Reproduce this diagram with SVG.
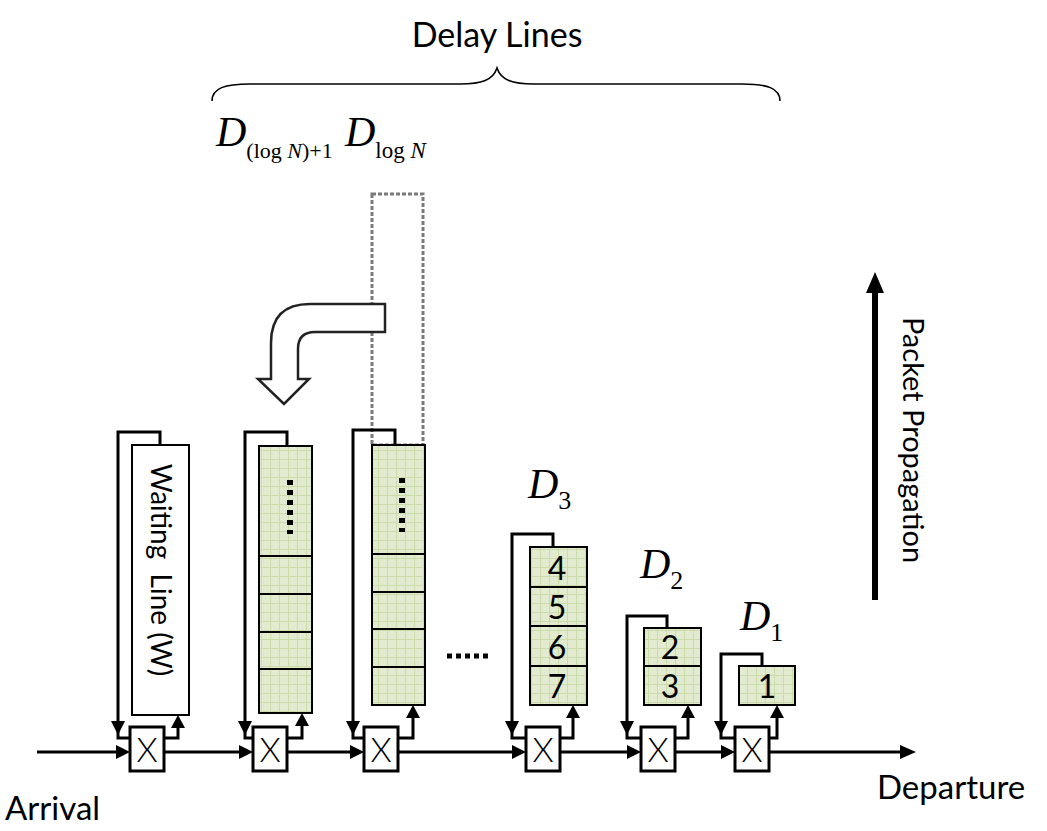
<svg xmlns="http://www.w3.org/2000/svg" width="1047" height="831" viewBox="0 0 1047 831">
<style>
.ln{fill:none;stroke:#000;stroke-width:3}
.sw{fill:#fff;stroke:#000;stroke-width:3}
.cell{fill:url(#grid);stroke:#000;stroke-width:2}
.div{stroke:#000;stroke-width:2}
.sans{font-family:Lato,"Liberation Sans",sans-serif;fill:#000}
.num{font-family:Lato,"Liberation Sans",sans-serif;font-size:32px;text-anchor:middle}
.ser{font-family:"Liberation Serif",serif;fill:#000}
.it{font-style:italic}
.ah{fill:#000}
</style>
<defs>
<pattern id="grid" width="9" height="9" patternUnits="userSpaceOnUse">
<rect width="9" height="9" fill="#e2ebcf"/>
<path d="M0 0.5H9M0.5 0V9" stroke="#cbdcaa" stroke-width="1"/>
</pattern>
</defs>

<g id="title">
<text class="sans" x="497" y="47" font-size="34" text-anchor="middle">Delay Lines</text>
<path d="M212,101 C212,88 225,84 250,84 L460,84 C482,84 493,80 497,68 C501,80 512,84 534,84 L742,84 C767,84 780,88 780,101" fill="none" stroke="#000" stroke-width="1.6"/>
</g>

<g id="labels">
<text class="ser" x="216" y="146"><tspan class="it" font-size="42">D</tspan><tspan font-size="22" dy="12">(log</tspan><tspan class="it" font-size="22"> N</tspan><tspan font-size="22">)+1</tspan></text>
<text class="ser" x="345" y="146"><tspan class="it" font-size="42">D</tspan><tspan font-size="23" dy="12">log</tspan><tspan class="it" font-size="23"> N</tspan></text>
<text class="ser" x="528" y="498"><tspan class="it" font-size="42">D</tspan><tspan font-size="26" dy="11">3</tspan></text>
<text class="ser" x="640" y="578"><tspan class="it" font-size="42">D</tspan><tspan font-size="26" dy="11">2</tspan></text>
<text class="ser" x="740" y="630"><tspan class="it" font-size="42">D</tspan><tspan font-size="26" dy="11">1</tspan></text>
<text class="sans" x="5" y="820" font-size="33">Arrival</text>
<text class="sans" x="877" y="799" font-size="33">Departure</text>
</g>

<g id="propagation">
<line x1="875" y1="600" x2="875" y2="290" stroke="#000" stroke-width="6"/>
<polygon class="ah" points="875,272 866,293 884,293"/>
<text class="sans" transform="translate(903,440) rotate(90)" font-size="29" text-anchor="middle">Packet Propagation</text>
</g>

<g id="dashed-slot">
<rect x="372" y="194" width="51" height="251" fill="none" stroke="#7a7a7a" stroke-width="3" stroke-dasharray="4,2"/>
</g>

<g id="move-arrow">
<path d="M385,304 L310,304 Q271,304 271,343 L271,379 L258,379 L284,404 L309,379 L298,379 L298,349 Q298,332 315,332 L385,332 Z" fill="#fff" stroke="#222" stroke-width="2.5"/>
</g>

<g id="waiting-line">
<rect x="132" y="445" width="57" height="270" fill="#fff" stroke="#000" stroke-width="2"/>
<text class="sans" transform="translate(151,570) rotate(90)" font-size="28" text-anchor="middle" xml:space="preserve">Waiting  Line (W)</text>
</g>

<g id="delay-logN1">
<rect class="cell" x="259" y="446" width="53" height="267"/>
<path class="div" d="M259,556H312M259,594H312M259,632H312M259,669H312"/>
<path d="M290,480V534" stroke="#000" stroke-width="6" stroke-dasharray="5,5"/>
</g>

<g id="delay-logN">
<rect class="cell" x="372" y="445" width="53" height="260"/>
<path class="div" d="M372,554H425M372,592H425M372,629H425M372,667H425"/>
<path d="M402,478V532" stroke="#000" stroke-width="6" stroke-dasharray="5,5"/>
</g>

<g id="delay-3">
<rect class="cell" x="530" y="547" width="57" height="158"/>
<path class="div" d="M530,587H587M530,626H587M530,666H587"/>
<text class="num" x="557" y="580">4</text>
<text class="num" x="557" y="619">5</text>
<text class="num" x="557" y="659">6</text>
<text class="num" x="557" y="698">7</text>
</g>

<g id="delay-2">
<rect class="cell" x="644" y="628" width="57" height="77"/>
<path class="div" d="M644,666H701"/>
<text class="num" x="670" y="659">2</text>
<text class="num" x="670" y="698">3</text>
</g>

<g id="delay-1">
<rect class="cell" x="739" y="666" width="56" height="39"/>
<text class="num" x="767" y="698">1</text>
</g>

<g id="ellipsis">
<path d="M447,656H492" stroke="#000" stroke-width="5" stroke-dasharray="5,4"/>
</g>

<g id="switches">
<rect class="sw" x="130" y="727" width="34" height="44"/>
<rect class="sw" x="253" y="727" width="34" height="44"/>
<rect class="sw" x="364" y="727" width="34" height="44"/>
<rect class="sw" x="526" y="727" width="34" height="44"/>
<rect class="sw" x="641" y="727" width="34" height="44"/>
<rect class="sw" x="735" y="727" width="34" height="44"/>
<g class="sans" font-size="34" font-weight="300" text-anchor="middle">
<text x="147" y="762">X</text>
<text x="270" y="762">X</text>
<text x="381" y="762">X</text>
<text x="543" y="762">X</text>
<text x="658" y="762">X</text>
<text x="752" y="762">X</text>
</g>
</g>

<g id="connectors">
<path class="ln" d="M37,752H118M164,752H241M287,752H352M398,752H514M560,752H629M675,752H723M769,752H903"/>
<polygon class="ah" points="130,752 116,745 116,759"/>
<polygon class="ah" points="253,752 239,745 239,759"/>
<polygon class="ah" points="364,752 350,745 350,759"/>
<polygon class="ah" points="526,752 512,745 512,759"/>
<polygon class="ah" points="641,752 627,745 627,759"/>
<polygon class="ah" points="735,752 721,745 721,759"/>
<polygon class="ah" points="916,752 900,745 900,759"/>

<path class="ln" d="M160,445V432H118V738H130"/>
<path class="ln" d="M287,446V432H245V738H253"/>
<path class="ln" d="M395,445V430H353V738H364"/>
<path class="ln" d="M553,547V534H512V738H526"/>
<path class="ln" d="M667,628V616H627V738H641"/>
<path class="ln" d="M762,666V654H721V738H735"/>
<polygon class="ah" points="118,735 111,721 125,721"/>
<polygon class="ah" points="245,735 238,721 252,721"/>
<polygon class="ah" points="353,735 346,721 360,721"/>
<polygon class="ah" points="512,735 505,721 519,721"/>
<polygon class="ah" points="627,735 620,721 634,721"/>
<polygon class="ah" points="721,735 714,721 728,721"/>

<path class="ln" d="M164,738H178V726"/>
<path class="ln" d="M287,738H302V724"/>
<path class="ln" d="M398,738H413V716"/>
<path class="ln" d="M560,738H573V716"/>
<path class="ln" d="M675,738H688V716"/>
<path class="ln" d="M769,738H777V716"/>
<polygon class="ah" points="178,715 171,728 185,728"/>
<polygon class="ah" points="302,713 295,726 309,726"/>
<polygon class="ah" points="413,705 406,718 420,718"/>
<polygon class="ah" points="573,705 566,718 580,718"/>
<polygon class="ah" points="688,705 681,718 695,718"/>
<polygon class="ah" points="777,705 770,718 784,718"/>
</g>
</svg>
